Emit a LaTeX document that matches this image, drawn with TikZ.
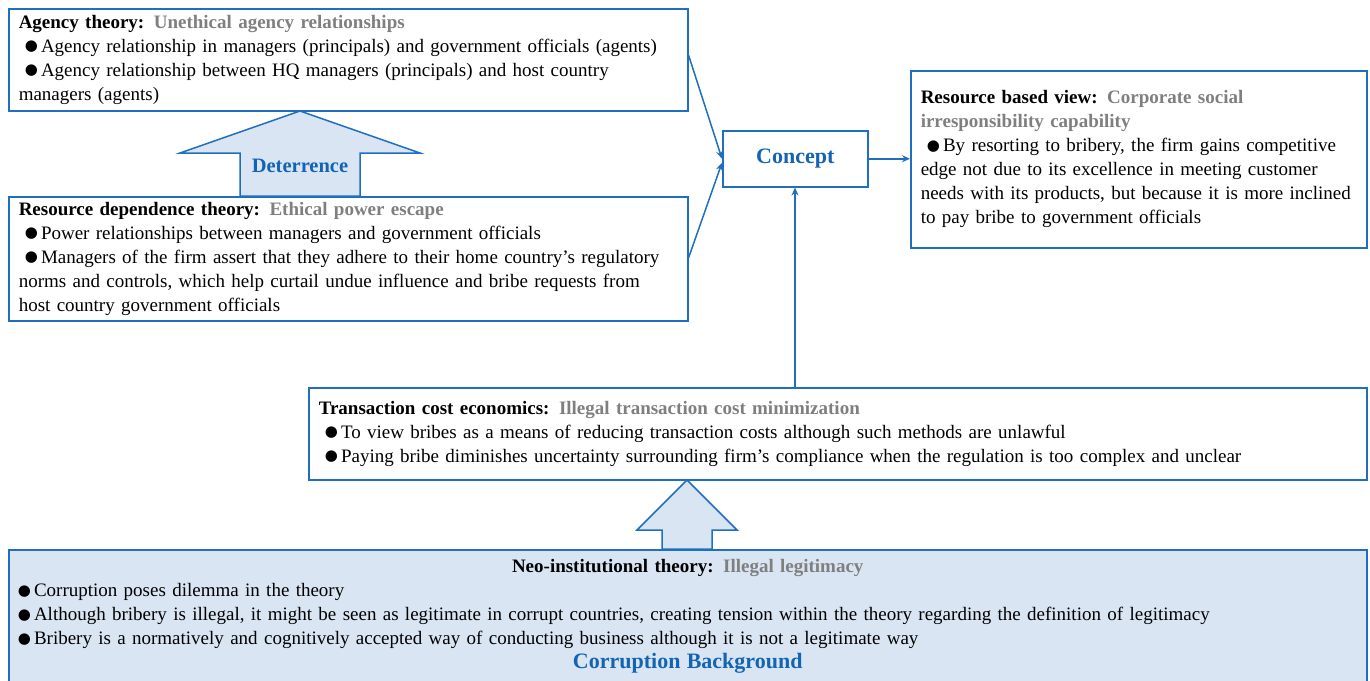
\documentclass[tikz,border=0pt]{standalone}
\usepackage{fontspec}
\setmainfont{Liberation Serif}
\newfontfamily\symfont{DejaVu Sans}
\usetikzlibrary{arrows.meta}

\definecolor{boxblue}{HTML}{1F6FC0}
\definecolor{lightfill}{HTML}{DAE5F4}
\definecolor{titlegrey}{HTML}{7F7F7F}
\definecolor{labelblue}{HTML}{1464B4}

\newcommand{\dotmark}{\raisebox{1.5pt}{\symfont\fontsize{15}{24}\selectfont ●}}
\newcommand{\bt}{\hspace*{6pt}\dotmark\,}
\newcommand{\ttl}[2]{\textbf{#1} {\color{titlegrey}\textbf{#2}}}

\tikzset{
  box/.style={draw=boxblue, line width=1.5pt, anchor=north west, align=left,
    inner xsep=10pt, inner ysep=0pt, font=\fontsize{19}{24}\selectfont},
  link/.style={draw=boxblue, line width=1.5pt, -{Stealth[length=8pt,width=7pt]}},
  fatarrow/.style={draw=boxblue, line width=1.5pt, fill=lightfill, line join=miter},
  bluelabel/.style={text=labelblue, font=\bfseries\fontsize{20.5}{24}\selectfont}
}

\begin{document}
\begin{tikzpicture}[x=1pt,y=-1pt]

\useasboundingbox (0,0) rectangle (1370,680);

\node[box, text width=659pt, minimum height=102pt] (agency) at (8,8) {%
\ttl{Agency theory:}{Unethical agency relationships}\\
\bt Agency relationship in managers (principals) and government officials (agents)\\
\bt Agency relationship between HQ managers (principals) and host country\\
managers (agents)};

\node[box, text width=659pt, minimum height=124pt] (resdep) at (8,196) {%
\ttl{Resource dependence theory:}{Ethical power escape}\\
\bt Power relationships between managers and government officials\\
\bt Managers of the firm assert that they adhere to their home country’s regulatory\\
norms and controls, which help curtail undue influence and bribe requests from\\
host country government officials};

\node[box, align=center, minimum width=145pt, minimum height=56pt, inner xsep=0pt,
  font=\bfseries\fontsize{22}{24}\selectfont, text=labelblue] (concept) at (722,130) {Concept};

\node[box, text width=436pt, minimum height=177pt] (rbv) at (910,70) {%
\ttl{Resource based view:}{Corporate social}\\
{\color{titlegrey}\textbf{irresponsibility capability}}\\
\bt By resorting to bribery, the firm gains competitive\\
edge not due to its excellence in meeting customer\\
needs with its products, but because it is more inclined\\
to pay bribe to government officials};

\node[box, text width=1038pt, minimum height=92pt] (tce) at (308,387) {%
\ttl{Transaction cost economics:}{Illegal transaction cost minimization}\\
\bt To view bribes as a means of reducing transaction costs although such methods are unlawful\\
\bt Paying bribe diminishes uncertainty surrounding firm’s compliance when the regulation is too complex and unclear};

\node[box, fill=lightfill, text width=1348pt, minimum height=134pt, inner xsep=5pt] (neo) at (8,549) {%
\centering\ttl{Neo-institutional theory:}{Illegal legitimacy}\par
\raggedright
\hspace*{4pt}\dotmark\,Corruption poses dilemma in the theory\\
\hspace*{4pt}\dotmark\,Although bribery is illegal, it might be seen as legitimate in corrupt countries, creating tension within the theory regarding the definition of legitimacy\\
\hspace*{4pt}\dotmark\,Bribery is a normatively and cognitively accepted way of conducting business although it is not a legitimate way\par
\centering{\color{labelblue}\bfseries\fontsize{22}{24}\selectfont Corruption Background}\par};

\draw[fatarrow] (300,111) -- (420,153) -- (360,153) -- (360,196) -- (240,196) -- (240,153) -- (180,153) -- cycle;
\node[bluelabel] (deterrence) at (300,166) {Deterrence};

\draw[fatarrow] (687,480) -- (737,530) -- (712,530) -- (712,549) -- (662,549) -- (662,530) -- (637,530) -- cycle;

\draw[link] (agency.east |- 0,55) -- (concept.west);
\draw[link] (resdep.east |- 0,258) -- ([yshift=-4pt]concept.west);
\draw[link] (concept.east) -- (rbv.west |- concept.east);
\draw[link] (tce.north -| 795,0) -- (concept.south -| 795,0);

\end{tikzpicture}
\end{document}
